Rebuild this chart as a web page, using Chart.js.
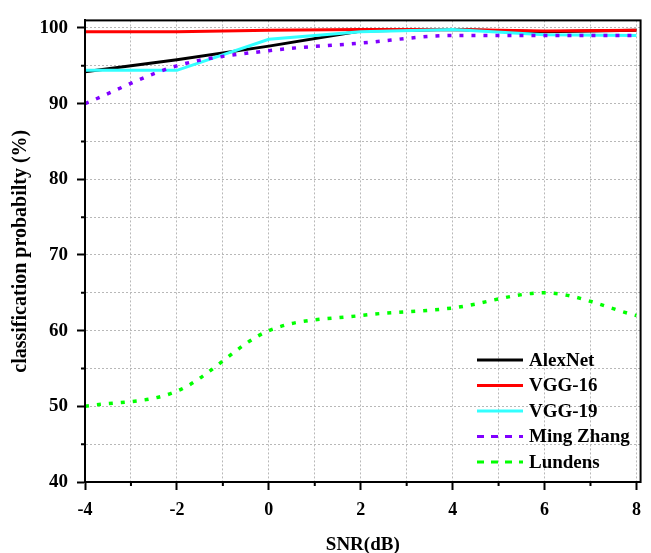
<!DOCTYPE html>
<html>
<head>
<meta charset="utf-8">
<script src="https://cdn.jsdelivr.net/npm/chart.js@4/dist/chart.umd.min.js"></script>
<style>
  body { margin: 0; background: #fff; }
  #wrap { width: 651px; height: 553px; }
</style>
</head>
<body>
<div id="wrap"><canvas id="snr-chart" width="651" height="553"></canvas></div>
<script>
// SNR points (dB)
var snr = [-4, -2, 0, 2, 4, 6, 8];

// classification probability (%) per method
var alexNet   = [94.2, 95.8, 97.6, 99.6, 99.8, 99.5, 99.7];
var vgg16     = [99.5, 99.5, 99.7, 99.8, 99.8, 99.6, 99.7];
var vgg19     = [94.4, 94.4, 98.5, 99.5, 99.8, 99.1, 99.0];
var mingZhang = [90, 95, 97, 98, 99, 99, 99];
var lundens   = [50, 52, 60, 62, 63, 65, 62];

var seriesNames = ["AlexNet", "VGG-16", "VGG-19", "Ming Zhang", "Lundens"];
var xTicks = [-4, -2, 0, 2, 4, 6, 8];
var yTicks = [40, 50, 60, 70, 80, 90, 100];

var FONT = "'Liberation Serif', 'Times New Roman', serif";

function pts(vals) {
  return snr.map(function (x, i) { return { x: x, y: vals[i] }; });
}

function line(name, vals, color, dotted) {
  return {
    label: name,
    data: pts(vals),
    borderColor: color,
    backgroundColor: color,
    borderWidth: dotted ? 3.5 : 3,
    borderDash: dotted ? [4, 8] : [],
    legendDash: dotted ? [7, 7] : [],
    pointRadius: 0,
    tension: 0,
    cubicInterpolationMode: dotted ? "monotone" : "default",
    fill: false
  };
}

var datasets = [
  line(seriesNames[0], alexNet, "#000000", false),
  line(seriesNames[1], vgg16, "#ff0000", false),
  line(seriesNames[2], vgg19, "#33ffff", false),
  line(seriesNames[3], mingZhang, "#8000ff", true),
  line(seriesNames[4], lundens, "#00ff00", true)
];
// later series drawn on top
datasets.forEach(function (d, i) { d.order = datasets.length - i; });

/**
 * Frame, minor ticks and the in-plot legend.
 */
var extras = {
  id: "extras",
  afterDraw: function (chart) {
    var c = chart.ctx, a = chart.chartArea;
    c.save();
    c.strokeStyle = "#000";
    c.lineWidth = 2;
    c.strokeRect(a.left, a.top, a.right - a.left, a.bottom - a.top);

    // minor ticks
    c.beginPath();
    chart.scales.x.ticks.forEach(function (t) {
      if (xTicks.indexOf(t.value) < 0) {
        var px = chart.scales.x.getPixelForValue(t.value);
        c.moveTo(px, a.bottom); c.lineTo(px, a.bottom + 4);
      }
    });
    chart.scales.y.ticks.forEach(function (t) {
      if (yTicks.indexOf(t.value) < 0) {
        var py = chart.scales.y.getPixelForValue(t.value);
        c.moveTo(a.left, py); c.lineTo(a.left - 4, py);
      }
    });
    c.stroke();

    // legend
    var x0 = 477, x1 = 523, y0 = 360, step = 25.5;
    c.font = "bold 19px " + FONT;
    c.textBaseline = "middle";
    c.textAlign = "left";
    chart.data.datasets.forEach(function (d, i) {
      var y = y0 + i * step;
      c.beginPath();
      c.setLineDash(d.legendDash);
      c.strokeStyle = d.borderColor;
      c.lineWidth = 3;
      c.moveTo(x0, y); c.lineTo(x1, y);
      c.stroke();
      c.setLineDash([]);
      c.fillStyle = "#000";
      c.fillText(d.label, 529, y + 1);
    });
    c.restore();
  }
};

var ctx = document.getElementById("snr-chart").getContext("2d");

var snrChart = new Chart(ctx, {
  type: "line",
  data: { datasets: datasets },
  plugins: [extras],
  options: {
    responsive: false,
    animation: false,
    layout: { padding: { top: 12, right: 8, left: 0, bottom: 0 } },
    plugins: { legend: { display: false }, tooltip: { enabled: false } },
    scales: {
      x: {
        type: "linear",
        min: -4,
        max: 8.09,
        afterBuildTicks: function (s) {
          s.ticks = s.ticks.filter(function (t) { return Number.isInteger(t.value); });
        },
        afterFit: function (s) { s.height = 71; },
        ticks: {
          stepSize: 1,
          includeBounds: false,
          autoSkip: false,
          maxRotation: 0,
          padding: 10,
          color: "#000",
          font: { family: FONT, size: 18, weight: "bold" },
          callback: function (v) { return xTicks.indexOf(v) >= 0 ? String(v) : ""; }
        },
        grid: {
          color: "#b8b8b8",
          lineWidth: 1,
          tickLength: 8,
          tickWidth: 2,
          tickColor: function (c) {
            return c.tick && xTicks.indexOf(c.tick.value) >= 0 ? "#000" : "rgba(0,0,0,0)";
          }
        },
        border: { display: true, color: "#000", width: 2, dash: [2, 2] },
        title: {
          display: true,
          text: "SNR(dB)",
          color: "#000",
          padding: { top: 0, bottom: 0 },
          font: { family: FONT, size: 19, weight: "bold", lineHeight: 0.8 }
        }
      },
      y: {
        type: "linear",
        min: 40,
        max: 101,
        afterBuildTicks: function (s) {
          s.ticks = s.ticks.filter(function (t) { return t.value % 5 === 0; });
        },
        afterFit: function (s) { s.width = 85; },
        ticks: {
          stepSize: 5,
          includeBounds: false,
          autoSkip: false,
          padding: 9,
          color: "#000",
          font: { family: FONT, size: 19, weight: "bold" },
          callback: function (v) { return yTicks.indexOf(v) >= 0 ? String(v) : ""; }
        },
        grid: {
          color: "#b8b8b8",
          lineWidth: 1,
          tickLength: 8,
          tickWidth: 2,
          tickColor: function (c) {
            return c.tick && yTicks.indexOf(c.tick.value) >= 0 ? "#000" : "rgba(0,0,0,0)";
          }
        },
        border: { display: true, color: "#000", width: 2, dash: [2, 2] },
        title: {
          display: true,
          text: "classification probabilty (%)",
          color: "#000",
          padding: { top: 9, bottom: 0 },
          font: { family: FONT, size: 20, weight: "bold" }
        }
      }
    }
  }
});
</script>
</body>
</html>
